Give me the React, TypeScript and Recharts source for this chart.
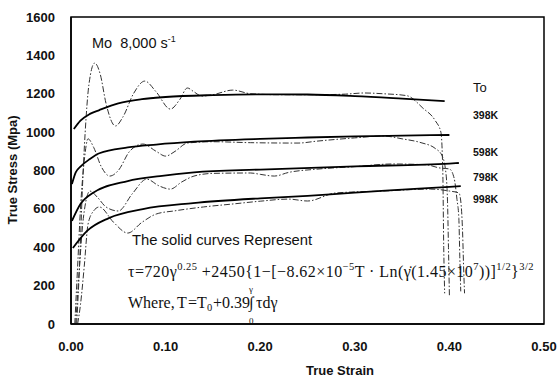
import React from 'react'
import { LineChart, Line, XAxis, YAxis, ReferenceArea } from 'recharts'

// model (solid) curves, strain vs true stress in MPa
const model398 = [
  [0.003, 1016], [0.01, 1060], [0.02, 1095], [0.03, 1115], [0.05, 1150], [0.075, 1172],
  [0.1, 1183], [0.15, 1193], [0.2, 1197], [0.25, 1196], [0.3, 1188], [0.35, 1175], [0.395, 1162],
]
const model598 = [
  [0.001, 729], [0.005, 790], [0.01, 820], [0.02, 860], [0.03, 890], [0.06, 920], [0.09, 935],
  [0.13, 950], [0.2, 965], [0.25, 972], [0.3, 978], [0.35, 982], [0.4, 985],
]
const model798 = [
  [0.001, 537], [0.01, 625], [0.023, 683], [0.06, 745], [0.094, 771], [0.13, 790],
  [0.2, 805], [0.3, 822], [0.4, 836], [0.41, 839],
]
const model998 = [
  [0.002, 396], [0.017, 485], [0.04, 552], [0.076, 599], [0.129, 630], [0.2, 655],
  [0.25, 668], [0.3, 685], [0.35, 700], [0.4, 715], [0.412, 719],
]

// measured (dashed) curves
const test398 = [
  [0.006, 0], [0.009, 300], [0.012, 700], [0.015, 1000], [0.019, 1250], [0.025, 1360],
  [0.031, 1300], [0.037, 1150], [0.047, 1032], [0.055, 1080], [0.066, 1200], [0.078, 1266],
  [0.09, 1210], [0.105, 1120], [0.115, 1170], [0.123, 1230], [0.13, 1210], [0.138, 1188],
  [0.15, 1195], [0.171, 1219], [0.19, 1200], [0.22, 1195], [0.26, 1195], [0.29, 1198],
  [0.31, 1204], [0.33, 1200], [0.355, 1190], [0.372, 1125], [0.385, 1060], [0.391, 1000],
  [0.393, 800], [0.394, 400], [0.395, 160],
]
const test598 = [
  [0.004, 0], [0.007, 300], [0.01, 600], [0.014, 850], [0.018, 965], [0.024, 920],
  [0.032, 820], [0.041, 771], [0.05, 800], [0.062, 900], [0.076, 938], [0.09, 900],
  [0.1, 875], [0.11, 900], [0.123, 943], [0.15, 950], [0.19, 945], [0.24, 943], [0.26, 953],
  [0.3, 970], [0.33, 980], [0.35, 965], [0.37, 945], [0.385, 915], [0.392, 880],
  [0.396, 800], [0.398, 640], [0.399, 400], [0.4, 150],
]
const test798 = [
  [0.005, 0], [0.009, 300], [0.013, 550], [0.02, 693], [0.028, 660], [0.037, 610],
  [0.05, 589], [0.065, 680], [0.08, 755], [0.093, 720], [0.105, 703], [0.117, 740],
  [0.13, 771], [0.15, 785], [0.19, 787], [0.2, 780], [0.215, 771], [0.23, 790], [0.26, 807],
  [0.3, 820], [0.34, 834], [0.375, 830], [0.39, 813], [0.4, 808], [0.405, 760],
  [0.408, 650], [0.41, 550], [0.411, 350], [0.412, 170],
]
const test998 = [
  [0.007, 0], [0.01, 100], [0.014, 300], [0.018, 520], [0.024, 590], [0.03, 610],
  [0.045, 530], [0.06, 474], [0.075, 530], [0.09, 573], [0.11, 590], [0.14, 610],
  [0.17, 625], [0.2, 640], [0.23, 651], [0.25, 641], [0.28, 683], [0.33, 693], [0.38, 703],
  [0.4, 693], [0.41, 683], [0.412, 641], [0.414, 469], [0.415, 300], [0.416, 160],
]

const xTicks = [0, 0.1, 0.2, 0.3, 0.4, 0.5]
const xMinorTicks = [0.02, 0.04, 0.06, 0.08, 0.1, 0.12, 0.14, 0.16, 0.18, 0.2, 0.22, 0.24, 0.26, 0.28, 0.3, 0.32, 0.34, 0.36, 0.38, 0.4, 0.42, 0.44, 0.46, 0.48]
const yTicks = [0, 200, 400, 600, 800, 1000, 1200, 1400, 1600]
const yMinorTicks = [100, 200, 300, 400, 500, 600, 700, 800, 900, 1000, 1100, 1200, 1300, 1400, 1500]

const toPoints = (rows: number[][]) => rows.map(([x, y]) => ({ x, y }))

const solidSeries = [model398, model598, model798, model998]
const dashedSeries = [test398, test598, test798, test998]

const tickFont = { fontFamily: 'Liberation Sans, Arial, sans-serif', fontSize: 13, fontWeight: 700, fill: '#111' }
const noTick = () => <g />

export default function App() {
  const width = 558
  const height = 383

  return (
    <div style={{ position: 'absolute', left: 0, top: 0, width, height, background: '#fff' }}>
      <LineChart width={width} height={height} margin={{ top: 17, right: 14, left: 10, bottom: 29 }}>
        <XAxis
          dataKey="x"
          type="number"
          domain={[0, 0.5]}
          ticks={xTicks}
          tickFormatter={(v: number) => v.toFixed(2)}
          tick={tickFont}
          tickLine={false}
          axisLine={{ stroke: '#000', strokeWidth: 1.5 }}
          height={30}
          tickMargin={12}
        />
        <XAxis
          xAxisId="minor"
          type="number"
          domain={[0, 0.5]}
          ticks={xMinorTicks}
          mirror
          tick={noTick}
          tickSize={3}
          tickLine={{ stroke: '#000' }}
          axisLine={false}
        />
        <YAxis
          type="number"
          domain={[0, 1600]}
          ticks={yTicks}
          tick={tickFont}
          tickLine={false}
          axisLine={{ stroke: '#000', strokeWidth: 1.5 }}
          width={61}
          tickMargin={10}
        />
        <YAxis
          yAxisId="minor"
          type="number"
          domain={[0, 1600]}
          ticks={yMinorTicks}
          mirror
          tick={noTick}
          tickSize={4}
          tickLine={{ stroke: '#000' }}
          axisLine={false}
        />
        <ReferenceArea x1={0} x2={0.5} y1={0} y2={1600} fill="none" stroke="#000" strokeWidth={1.5} />
        {dashedSeries.map((s, i) => (
          <Line
            key={'t' + i}
            data={toPoints(s)}
            dataKey="y"
            type="monotone"
            stroke="#333"
            strokeWidth={1}
            strokeDasharray="6 2 1.5 2"
            dot={false}
            isAnimationActive={false}
          />
        ))}
        {solidSeries.map((s, i) => (
          <Line
            key={'m' + i}
            data={toPoints(s)}
            dataKey="y"
            type="monotone"
            stroke="#000"
            strokeWidth={1.8}
            dot={false}
            isAnimationActive={false}
          />
        ))}
      </LineChart>

      {/* annotations */}
      <svg width={width} height={height} style={{ position: 'absolute', left: 0, top: 0, pointerEvents: 'none' }}>
        <g fontFamily="Liberation Sans, Arial, sans-serif" fill="#111">
          <text x={14} y={170} fontSize={13} fontWeight={700} textAnchor="middle" dominantBaseline="middle" transform="rotate(-90 14 170)">
            True Stress (Mpa)
          </text>
          <text x={340} y={372} fontSize={13} fontWeight={700} textAnchor="middle" dominantBaseline="middle">
            True Strain
          </text>
          <text x={92} y={48} fontSize={14.5} style={{ whiteSpace: 'pre' }}>
            {'Mo  8,000 s'}<tspan dy={-6} fontSize={9}>-1</tspan>
          </text>
          <text x={473} y={92} fontSize={13}>To</text>
          <text x={473} y={119} fontSize={10.5} fontWeight={700}>398K</text>
          <text x={473} y={156} fontSize={10.5} fontWeight={700}>598K</text>
          <text x={473} y={181} fontSize={10.5} fontWeight={700}>798K</text>
          <text x={473} y={203} fontSize={10.5} fontWeight={700}>998K</text>
          <text x={132} y={245} fontSize={14.8}>The solid curves Represent</text>
        </g>
        <g fontFamily="Liberation Serif, Times New Roman, serif" fill="#111" fontSize={16}>
          <text x={128} y={277} letterSpacing={0.45}>
            τ=720γ<tspan dy={-7} fontSize={10.5}>0.25</tspan>
            <tspan dy={7}> +2450{'{'}1−[−8.62×10</tspan>
            <tspan dy={-7} fontSize={10.5}>−5</tspan>
            <tspan dy={7}>T · Ln(γ̇(1.45×10</tspan>
            <tspan dy={-7} fontSize={10.5}>7</tspan>
            <tspan dy={7}>))]</tspan>
            <tspan dy={-7} fontSize={10.5}>1/2</tspan>
            <tspan dy={7}>{'}'}</tspan>
            <tspan dy={-7} fontSize={10.5}>3/2</tspan>
          </text>
          <text y={308}>
            <tspan x={128}>Where,</tspan>
            <tspan x={177}>T</tspan>
            <tspan x={188}>=T</tspan>
            <tspan x={207} dy={3} fontSize={10.5}>0</tspan>
            <tspan x={213} dy={-3}>+0.39</tspan>
            <tspan x={249}>∫</tspan>
            <tspan x={256}>τdγ</tspan>
          </text>
          <text x={249} y={292} fontSize={9}>γ</text>
          <text x={249} y={324} fontSize={9}>0</text>
        </g>
      </svg>
    </div>
  )
}
